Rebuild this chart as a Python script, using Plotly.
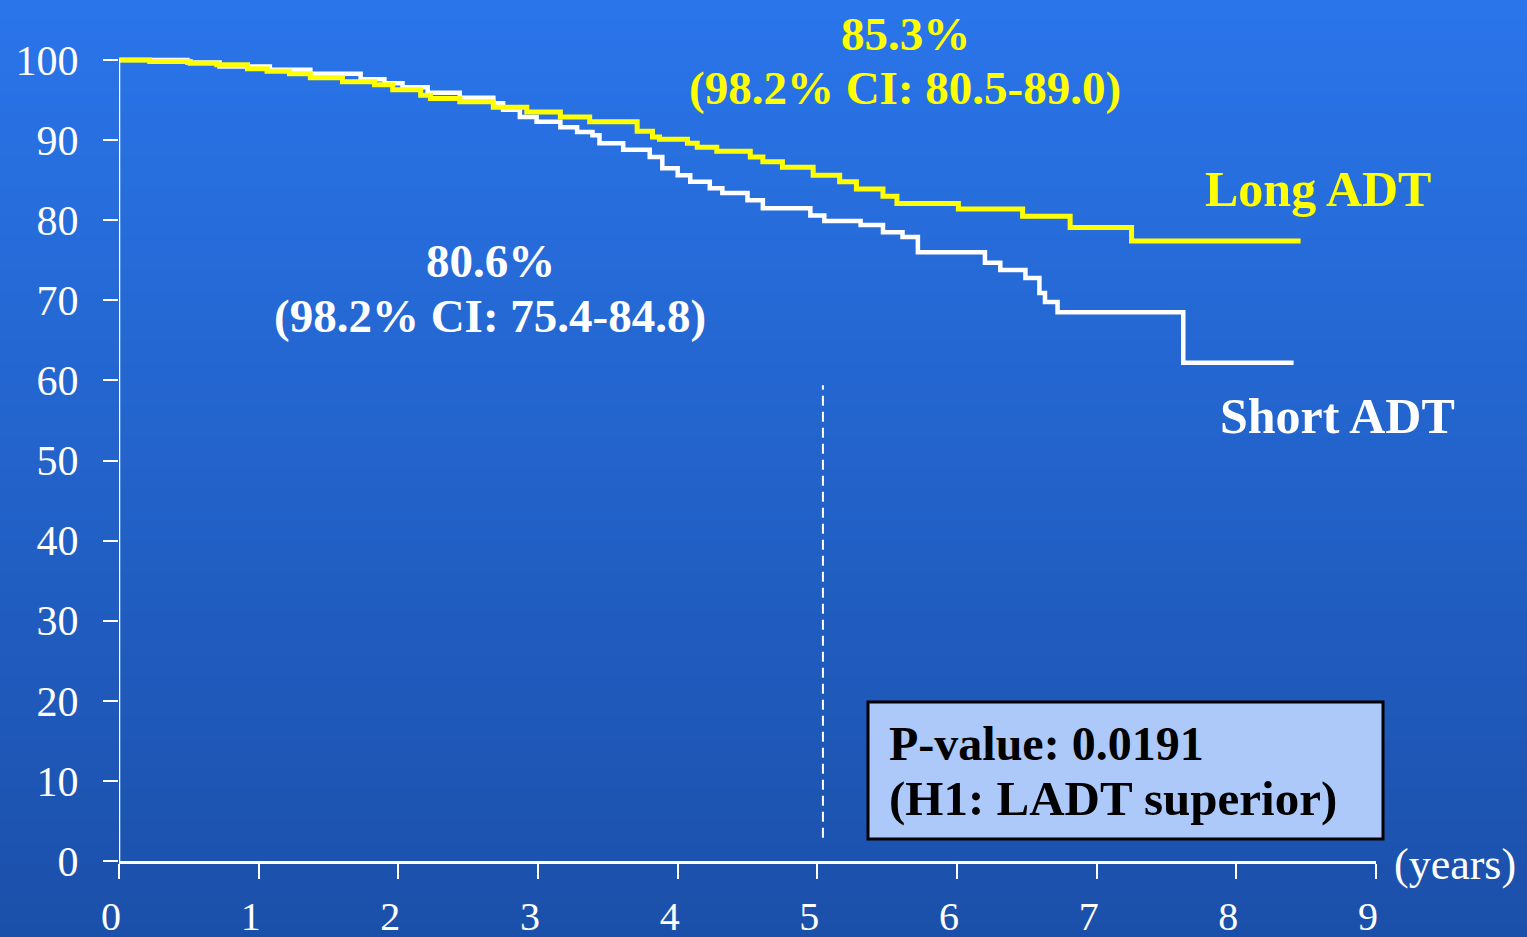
import plotly.graph_objects as go

# ---------------- data ----------------
long_t = [0, 0.22, 0.51, 0.70, 0.92, 1.06, 1.22, 1.37, 1.60, 1.83, 1.96, 2.16, 2.23, 2.44,
          2.68, 2.92, 3.16, 3.37, 3.71, 3.82, 3.87, 4.07, 4.14, 4.28, 4.52, 4.61, 4.75,
          4.97, 5.16, 5.28, 5.47, 5.57, 6.01, 6.47, 6.81, 7.25, 8.46]
long_s = [100, 99.8, 99.6, 99.4, 98.9, 98.6, 98.3, 97.8, 97.3, 96.9, 96.3, 95.6, 95.2, 94.8,
          94.1, 93.5, 92.9, 92.3, 91.1, 90.4, 90.1, 89.6, 89.1, 88.6, 87.9, 87.3, 86.6,
          85.6, 84.8, 83.9, 83.0, 82.1, 81.4, 80.5, 79.1, 77.4, 77.4]

short_t = [0, 0.49, 0.72, 1.08, 1.37, 1.73, 1.90, 2.03, 2.21, 2.44, 2.68, 2.75, 2.87, 2.99,
           3.16, 3.28, 3.39, 3.44, 3.61, 3.80, 3.89, 4.00, 4.09, 4.23, 4.32, 4.50, 4.61,
           4.95, 5.05, 5.31, 5.47, 5.61, 5.72, 6.20, 6.31, 6.49, 6.59, 6.63, 6.72, 7.62, 8.41]
short_s = [100, 99.7, 99.2, 98.8, 98.3, 97.6, 97.1, 96.6, 95.9, 95.3, 94.6, 93.8, 92.9, 92.3,
           91.6, 91.0, 90.6, 89.6, 88.8, 87.9, 86.5, 85.6, 84.8, 84.0, 83.4, 82.5, 81.5,
           80.6, 79.9, 79.4, 78.5, 77.9, 76.0, 74.7, 73.8, 72.8, 70.9, 69.8, 68.5, 62.2, 62.2]

x_ticks = [0, 1, 2, 3, 4, 5, 6, 7, 8, 9]
y_ticks = [0, 10, 20, 30, 40, 50, 60, 70, 80, 90, 100]

long_label = "Long ADT"
short_label = "Short ADT"
long_est = "85.3%"
long_ci = "(98.2% CI: 80.5-89.0)"
short_est = "80.6%"
short_ci = "(98.2% CI: 75.4-84.8)"
pvalue_lines = ["P-value: 0.0191", "(H1: LADT superior)"]
landmark_year = 5.04
x_unit = "(years)"

# ---------------- layout geometry ----------------
FW, FH = 1527, 937
ML, MR, MT, MB = 119, 151, 44, 76
PW, PH = FW - ML - MR, FH - MT - MB
FONT = "Liberation Serif"
YEL = "#ffff00"


def px(x):
    return (x - ML) / PW


def py(y):
    return (FH - MB - y) / PH


fig = go.Figure()

fig.add_trace(go.Scatter(x=short_t, y=short_s, mode="lines", line_shape="hv",
                         line=dict(color="white", width=4.5), hoverinfo="skip"))
fig.add_trace(go.Scatter(x=long_t, y=long_s, mode="lines", line_shape="hv",
                         line=dict(color=YEL, width=5), hoverinfo="skip"))

shapes = []
# gradient background
top = (42, 117, 234)
bot = (27, 80, 170)
N = 90
for i in range(N):
    f = i / (N - 1)
    c = tuple(round(top[k] + (bot[k] - top[k]) * f) for k in range(3))
    y0 = i * FH / N - 1
    y1 = (i + 1) * FH / N + 1
    shapes.append(dict(type="rect", xref="paper", yref="paper",
                       x0=px(-2), x1=px(FW + 2), y0=py(y1), y1=py(y0),
                       fillcolor="rgb(%d,%d,%d)" % c, line=dict(width=0), layer="below"))
# y axis line (0..100)
shapes.append(dict(type="line", xref="x", yref="y", x0=0, x1=0, y0=0, y1=100,
                   line=dict(color="white", width=2.5)))
# landmark dashed line
shapes.append(dict(type="line", xref="x", yref="y", x0=landmark_year, x1=landmark_year,
                   y0=2.9, y1=59.4, line=dict(color="white", width=2, dash="10px,6px")))
# p-value box
shapes.append(dict(type="rect", xref="paper", yref="paper",
                   x0=px(868), x1=px(1383), y0=py(839), y1=py(702),
                   fillcolor="#adc9fa", line=dict(color="black", width=3)))

ann = []


def label(text, x, y, color, size, bold=True, xanchor="center"):
    t = "<b>%s</b>" % text if bold else text
    ann.append(dict(text=t, x=px(x), y=py(y), xref="paper", yref="paper",
                    xanchor=xanchor, yanchor="middle", showarrow=False,
                    font=dict(family=FONT, size=size, color=color)))


label(long_est, 905, 34, YEL, 47)
label(long_ci, 905, 88, YEL, 47)
label(short_est, 490, 261, "white", 47)
label(short_ci, 490, 316, "white", 47)
label(long_label, 1318, 189, YEL, 50)
label(short_label, 1337, 416, "white", 50)
label(x_unit, 1455, 864, "white", 44, bold=False)
label(pvalue_lines[0], 887, 743, "black", 48, xanchor="left")
label(pvalue_lines[1], 887, 798, "black", 49, xanchor="left")

fig.update_layout(
    width=FW, height=FH, autosize=False,
    margin=dict(l=ML, r=MR, t=MT, b=MB, pad=0, autoexpand=False),
    paper_bgcolor="rgb(34,98,202)",
    plot_bgcolor="rgba(0,0,0,0)",
    showlegend=False,
    shapes=shapes,
    annotations=ann,
    xaxis=dict(range=[0, 9], tickvals=x_ticks, ticktext=[str(v) for v in x_ticks],
               showgrid=False, zeroline=False, showline=True, linecolor="white",
               linewidth=3, ticks="outside", ticklen=15, tickwidth=1.5, tickcolor="white",
               tickfont=dict(family=FONT, size=40, color="white"), automargin=False,
               ticklabelstandoff=3, ticklabelshift=-8, fixedrange=True),
    yaxis=dict(range=[0, 102], tickvals=y_ticks, ticktext=[str(v) for v in y_ticks],
               showgrid=False, zeroline=False, showline=False, automargin=False,
               ticks="outside", ticklen=15, tickwidth=1.5, tickcolor="white",
               tickfont=dict(family=FONT, size=42, color="white"),
               ticklabelstandoff=16, fixedrange=True),
)

fig.write_html("out.html", config={"displayModeBar": False},
               post_script="document.body.style.margin='0';document.body.style.overflow='hidden';")
